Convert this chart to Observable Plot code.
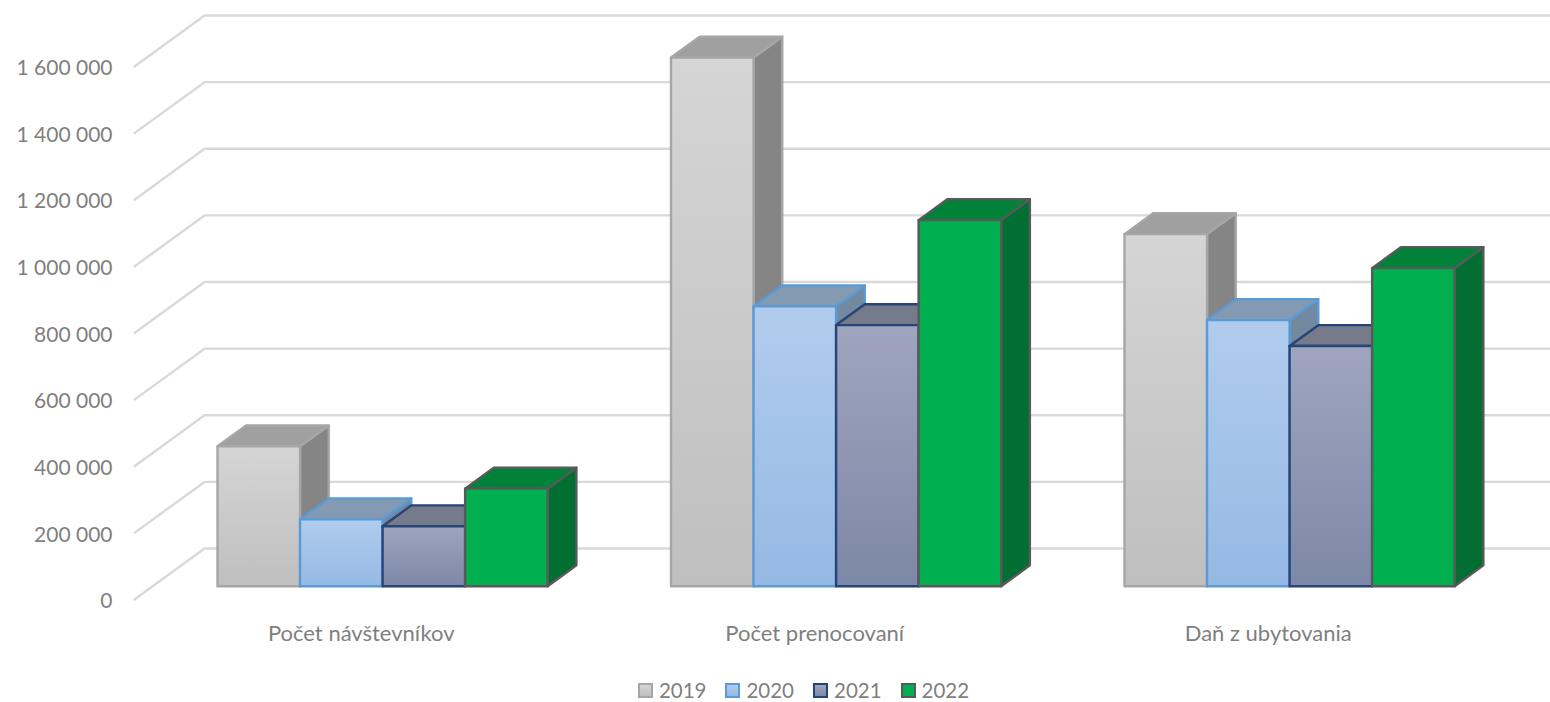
<!DOCTYPE html>
<html lang="sk">
<head>
<meta charset="utf-8">
<script src="https://cdn.jsdelivr.net/npm/d3@7"></script>
<script src="https://cdn.jsdelivr.net/npm/@observablehq/plot@0.6"></script>
<style>
  html, body { margin: 0; padding: 0; background: #fff; overflow: hidden; }
  #legend { height: 30px; display: flex; justify-content: center; align-items: center; gap: 19px;
            padding-left: 57px; padding-top: 3px; font: 20.5px Lato, sans-serif; color: #7f7f7f; }
  #legend span.item { display: inline-flex; align-items: center; gap: 6px; }
  #legend i { display: inline-block; width: 11px; height: 11px; border-width: 2.5px; border-style: solid; }
  svg { display: block; overflow: hidden; }
</style>
</head>
<body>
<div id="chart"></div>
<div id="legend"></div>
<script>
const categories = ["Počet návštevníkov", "Počet prenocovaní", "Daň z ubytovania"];
const years = ["2019", "2020", "2021", "2022"];
const values2019 = [420000, 1587000, 1057000];
const values2020 = [201000, 840000, 799000];
const values2021 = [180000, 784000, 721000];
const values2022 = [293000, 1099000, 955000];
const seriesValues = [values2019, values2020, values2021, values2022];
const yTicks = [0, 200000, 400000, 600000, 800000, 1000000, 1200000, 1400000, 1600000];

const gradientTop = ["#d5d5d5", "#b1cced", "#9fa5bd", "#00b050"];
const gradientBottom = ["#bfbfbf", "#95b9e4", "#7d87a7", "#00b050"];
const topFaces = ["#a0a0a0", "#8499b2", "#767b8c", "#008239"];
const sideFaces = ["#858585", "#728aa0", "#5f6577", "#006f31"];
const strokes = ["#a6a6a6", "#5b9bd5", "#264478", "#595959"];

// oblique projection expressed in data units
const depthX = 0.1544;      // shift of the back wall, in category units
const depthY = 153000;      // shift of the back wall, in value units
const barDepthFront = 0.26;
const barDepthBack = 0.67;
const barWidth = 0.182;
const groupInset = 0.1429;
const wallEnd = 2.968;

const pt = (u, v, depth) => ({x: u + depth * depthX, y: v + depth * depthY});

const gridData = yTicks.flatMap((v) => [
  {tick: v, ...pt(0, v, 0)},
  {tick: v, ...pt(0, v, 1)},
  {tick: v, ...pt(wallEnd, v, 1)}
]);

const polygons = [];
categories.forEach((_, i) => {
  seriesValues.forEach((vals, j) => {
    const u0 = i + groupInset + j * barWidth, u1 = u0 + barWidth, v = vals[i];
    const f = barDepthFront, b = barDepthBack;
    const faces = [
      [sideFaces[j], [pt(u1, 0, f), pt(u1, 0, b), pt(u1, v, b), pt(u1, v, f)]],
      [topFaces[j], [pt(u0, v, f), pt(u0, v, b), pt(u1, v, b), pt(u1, v, f)]],
      [`url(#grad${j})`, [pt(u0, 0, f), pt(u1, 0, f), pt(u1, v, f), pt(u0, v, f)]]
    ];
    faces.forEach(([fill, pts], k) => {
      const id = `${i}-${j}-${k}`;
      [...pts, pts[0]].forEach((p) => polygons.push({id, fill, stroke: strokes[j], ...p}));
    });
  });
});

const spaced = (d) => d3.format(",")(d).replace(/,/g, " ");
const ink = "#7f7f7f";

const defs = () => {
  const ns = "http://www.w3.org/2000/svg";
  const el = document.createElementNS(ns, "defs");
  years.forEach((_, j) => {
    const g = document.createElementNS(ns, "linearGradient");
    g.setAttribute("id", `grad${j}`);
    g.setAttribute("x1", "0"); g.setAttribute("x2", "0");
    g.setAttribute("y1", "0"); g.setAttribute("y2", "1");
    [[0, gradientTop[j]], [1, gradientBottom[j]]].forEach(([o, c]) => {
      const s = document.createElementNS(ns, "stop");
      s.setAttribute("offset", o); s.setAttribute("stop-color", c);
      g.appendChild(s);
    });
    el.appendChild(g);
  });
  return el;
};

const plot = Plot.plot({
  width: 1550,
  height: 672,
  marginLeft: 134,
  marginRight: 55.5,
  marginTop: 66,
  marginBottom: 73,
  style: {fontFamily: "Lato, sans-serif", fontSize: "20px", background: "#fff", color: ink},
  x: {domain: [0, 3], axis: null},
  y: {domain: [0, 1600000], axis: null},
  marks: [
    defs,
    Plot.line(gridData, {x: "x", y: "y", z: "tick", stroke: "#d9d9d9", strokeWidth: 2.4}),
    Plot.line(polygons, {
      x: "x", y: "y", z: "id",
      fill: {value: (d) => d.fill, scale: null},
      stroke: {value: (d) => d.stroke, scale: null},
      strokeWidth: 2.4, strokeLinejoin: "round", curve: "linear"
    }),
    Plot.axisY({ticks: yTicks, tickFormat: spaced, tickSize: 0, tickPadding: 22, dy: 2, label: null, fill: ink, fontSize: 21}),
    Plot.axisX({ticks: [0.5, 1.5, 2.5], tickFormat: (d) => categories[d - 0.5], tickSize: 0, tickPadding: 26, label: null, fill: ink, fontSize: 22})
  ]
});
document.getElementById("chart").appendChild(plot);

const legend = document.getElementById("legend");
years.forEach((y, j) => {
  const item = document.createElement("span");
  item.className = "item";
  const sw = document.createElement("i");
  sw.style.background = `linear-gradient(${gradientTop[j]}, ${gradientBottom[j]})`;
  sw.style.borderColor = strokes[j];
  item.appendChild(sw);
  item.appendChild(document.createTextNode(y));
  legend.appendChild(item);
});
</script>
</body>
</html>
